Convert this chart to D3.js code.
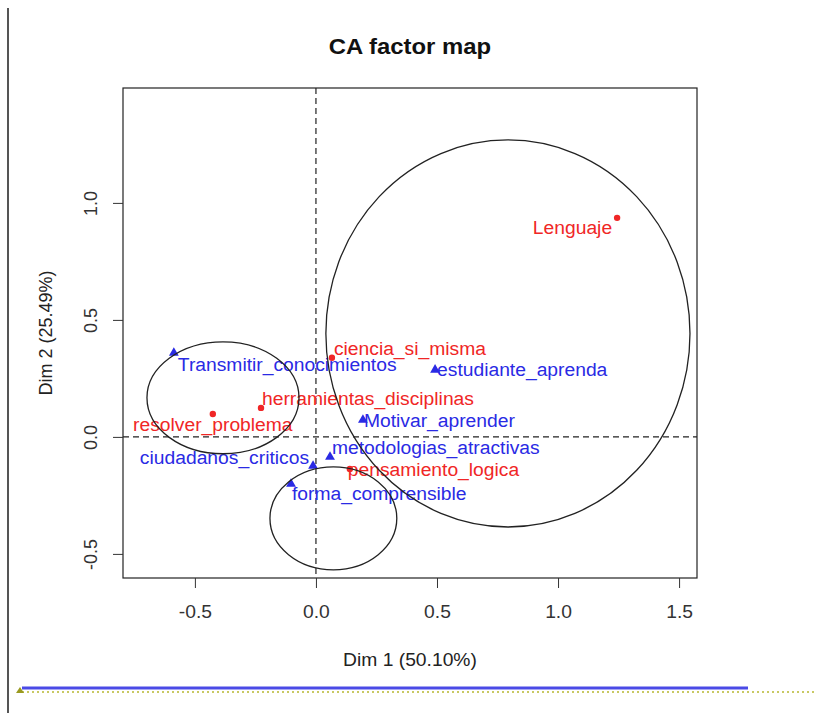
<!DOCTYPE html>
<html><head><meta charset="utf-8">
<script src="https://cdn.jsdelivr.net/npm/d3@7"></script>
<style>body{margin:0;background:#fff}svg{display:block}text{font-family:"Liberation Sans",Arial,sans-serif}</style>
</head><body><div id="chart"></div>
<script>
// ---- data ----
const rowNames = ["Lenguaje","ciencia_si_misma","herramientas_disciplinas","resolver_problema","pensamiento_logica"];
const rowDim1 = [1.244, 0.066, -0.227, -0.426, 0.140];
const rowDim2 = [0.936, 0.338, 0.124, 0.098, -0.137];
const colNames = ["Transmitir_conocimientos","estudiante_aprenda","Motivar_aprender","metodologias_atractivas","ciudadanos_criticos","forma_comprensible"];
const colDim1 = [-0.587, 0.492, 0.194, 0.058, -0.012, -0.103];
const colDim2 = [0.363, 0.291, 0.077, -0.081, -0.120, -0.197];
const xTicks = [-0.5, 0.0, 0.5, 1.0, 1.5];
const yTicks = [-0.5, 0.0, 0.5, 1.0];
const ellipseCx = [0.793, -0.384, 0.072];
const ellipseCy = [0.442, 0.167, -0.348];
const ellipseRx = [0.752, 0.314, 0.262];
const ellipseRy = [0.827, 0.239, 0.220];
const title = "CA factor map";
const xLabel = "Dim 1 (50.10%)";
const yLabel = "Dim 2 (25.49%)";

// label placement (pixels, separate from values)
const rowLabelPlace = [{a:"end",dx:-5,dy:10},{a:"start",dx:2,dy:-9},{a:"start",dx:1,dy:-9},{a:"middle",dx:0,dy:11},{a:"start",dx:-2,dy:1}];
const colLabelPlace = [{a:"start",dx:4,dy:13},{a:"start",dx:2,dy:1},{a:"start",dx:1,dy:2},{a:"start",dx:2,dy:-8},{a:"end",dx:-4,dy:-7},{a:"start",dx:1,dy:11}];

const W = 815, H = 713;
const box = {l:123, r:697, t:88, b:578};
const FS = 18, STRETCH = 1.07;
const svg = d3.select("#chart").append("svg").attr("width",W).attr("height",H);

function stretch(sel, f) {
  sel.each(function(){
    const L = this.getComputedTextLength();
    d3.select(this).attr("textLength", L*f).attr("lengthAdjust","spacingAndGlyphs");
  });
}

const x = d3.scaleLinear().domain([-0.797, 1.574]).range([box.l, box.r]);
const y = d3.scaleLinear().domain([-0.603, 1.491]).range([box.b, box.t]);
const fmt = d => d3.format(".1f")(d).replace("\u2212","-");

// page decorations
svg.append("line").attr("x1",8).attr("x2",8).attr("y1",8).attr("y2",H).attr("stroke","#555").attr("stroke-width",2);
svg.append("line").attr("x1",22).attr("x2",748).attr("y1",688).attr("y2",688).attr("stroke","#4a4ae6").attr("stroke-width",3);
svg.append("line").attr("x1",22).attr("x2",W).attr("y1",692).attr("y2",692).attr("stroke","#b8b830").attr("stroke-width",1.5).attr("stroke-dasharray","2,3");
svg.append("path").attr("d","M16,693 L20,687 L24,693 Z").attr("fill","#9a9a20");

// title
svg.append("text").attr("x",(box.l+box.r)/2).attr("y",54).attr("text-anchor","middle")
  .attr("font-size",22).attr("font-weight","bold").attr("fill","#111").text(title)
  .call(stretch, 1.085);

// box
svg.append("rect").attr("x",box.l).attr("y",box.t).attr("width",box.r-box.l).attr("height",box.b-box.t)
  .attr("fill","none").attr("stroke","#222").attr("stroke-width",1.2);

// axes
const xAxis = d3.axisBottom(x).tickValues(xTicks).tickFormat(fmt).tickSize(10).tickPadding(17);
const gx = svg.append("g").attr("transform",`translate(0,${box.b})`).call(xAxis);
gx.select(".domain").remove();
gx.selectAll("text").attr("font-size",FS).attr("fill","#333").attr("font-family","Liberation Sans, Arial, sans-serif")
  .call(stretch, STRETCH);
gx.selectAll("line").attr("stroke","#333");

const yAxis = d3.axisLeft(y).tickValues(yTicks).tickFormat(fmt).tickSize(10);
const gy = svg.append("g").attr("transform",`translate(${box.l},0)`).call(yAxis);
gy.select(".domain").remove();
gy.selectAll("line").attr("stroke","#333");
gy.selectAll("text").attr("font-size",FS).attr("fill","#333").attr("font-family","Liberation Sans, Arial, sans-serif")
  .attr("text-anchor","middle").attr("x",null).attr("dy",null)
  .attr("transform","translate(-26,0) rotate(-90)");

svg.append("text").attr("x",(box.l+box.r)/2).attr("y",666).attr("text-anchor","middle")
  .attr("font-size",FS).attr("fill","#222").text(xLabel).call(stretch, STRETCH);
svg.append("text").attr("transform",`translate(52,${(box.t+box.b)/2}) rotate(-90)`).attr("text-anchor","middle")
  .attr("font-size",FS).attr("fill","#222").text(yLabel);

// dashed origin lines
svg.append("line").attr("x1",box.l).attr("x2",box.r).attr("y1",y(0)).attr("y2",y(0))
  .attr("stroke","#222").attr("stroke-width",1.2).attr("stroke-dasharray","6,4");
svg.append("line").attr("x1",x(0)).attr("x2",x(0)).attr("y1",box.t).attr("y2",box.b)
  .attr("stroke","#222").attr("stroke-width",1.2).attr("stroke-dasharray","6,4");

// rows / columns
const rows = rowNames.map((n,i)=>({n, x:rowDim1[i], y:rowDim2[i], p:rowLabelPlace[i]}));
const cols = colNames.map((n,i)=>({n, x:colDim1[i], y:colDim2[i], p:colLabelPlace[i]}));
const red = "#f02626", blue = "#2a2ae4";

svg.selectAll(".rpt").data(rows).enter().append("circle")
  .attr("cx",d=>x(d.x)).attr("cy",d=>y(d.y)).attr("r",3.2).attr("fill",red);
svg.selectAll(".rlab").data(rows).enter().append("text")
  .attr("x",d=>x(d.x)+d.p.dx).attr("y",d=>y(d.y)+d.p.dy).attr("dy","0.35em")
  .attr("text-anchor",d=>d.p.a).attr("font-size",FS).attr("fill",red).text(d=>d.n)
  .call(stretch, STRETCH);

const tri = d3.symbol().type(d3.symbolTriangle).size(42);
svg.selectAll(".cpt").data(cols).enter().append("path")
  .attr("d",tri).attr("transform",d=>`translate(${x(d.x)},${y(d.y)+1})`).attr("fill",blue);
svg.selectAll(".clab").data(cols).enter().append("text")
  .attr("x",d=>x(d.x)+d.p.dx).attr("y",d=>y(d.y)+d.p.dy).attr("dy","0.35em")
  .attr("text-anchor",d=>d.p.a).attr("font-size",FS).attr("fill",blue).text(d=>d.n)
  .call(stretch, STRETCH);

// ellipses
const ells = ellipseCx.map((c,i)=>({cx:c, cy:ellipseCy[i], rx:ellipseRx[i], ry:ellipseRy[i]}));
svg.selectAll(".ell").data(ells).enter().append("ellipse")
  .attr("cx",d=>x(d.cx)).attr("cy",d=>y(d.cy))
  .attr("rx",d=>x(d.rx)-x(0)).attr("ry",d=>y(0)-y(d.ry))
  .attr("fill","none").attr("stroke","#222").attr("stroke-width",1.3);
</script></body></html>
